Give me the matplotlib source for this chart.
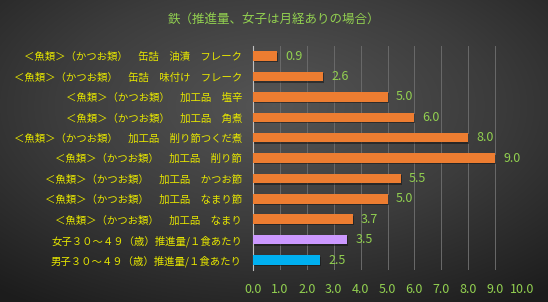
import numpy as np
import matplotlib
matplotlib.use("Agg")
import matplotlib.pyplot as plt

plt.rcParams['font.family'] = ['Noto Sans CJK JP', 'DejaVu Sans']

title = "鉄（推進量、女子は月経ありの場合）"
labels = [
    "＜魚類＞（かつお類）　缶詰　油漬　フレーク",
    "＜魚類＞（かつお類）　缶詰　味付け　フレーク",
    "＜魚類＞（かつお類）　加工品　塩辛",
    "＜魚類＞（かつお類）　加工品　角煮",
    "＜魚類＞（かつお類）　加工品　削り節つくだ煮",
    "＜魚類＞（かつお類）　加工品　削り節",
    "＜魚類＞（かつお類）　加工品　かつお節",
    "＜魚類＞（かつお類）　加工品　なまり節",
    "＜魚類＞（かつお類）　加工品　なまり",
    "女子３０～４９（歳）推進量/１食あたり",
    "男子３０～４９（歳）推進量/１食あたり",
]
values = [0.9, 2.6, 5.0, 6.0, 8.0, 9.0, 5.5, 5.0, 3.7, 3.5, 2.5]
colors = ["#ed7d31"] * 9 + ["#cc99ff", "#00b0f0"]
xticks = [0, 1, 2, 3, 4, 5, 6, 7, 8, 9, 10]

fig = plt.figure(figsize=(5.48, 3.02), dpi=100)

# radial dark background
bg = fig.add_axes([0, 0, 1, 1])
yy, xx = np.mgrid[-1:1:302j, -1:1:548j]
r = np.sqrt(xx ** 2 + (yy + 0.3) ** 2) / 1.6
bg.imshow(np.clip(r, 0, 1), cmap=matplotlib.colors.LinearSegmentedColormap.from_list(
    "bg", ["#555555", "#3c3c3c", "#1c1c1c"]), aspect="auto", extent=[0, 1, 0, 1])
bg.axis("off")

ax = fig.add_axes([0.4617, 0.105, 0.4909, 0.743])
ax.set_facecolor("none")
y = np.arange(len(values))
# shadow
ax.barh(y + 0.06, [v + 0.04 for v in values], height=0.47, color="#111111", alpha=0.5, zorder=2)
ax.barh(y, values, height=0.47, color=colors, zorder=3)
for yi, v in zip(y, values):
    ax.text(v + 0.3, yi, f"{v:.1f}", va="center", ha="left", color="#92d050", fontsize=9)

ax.set_ylim(len(values) - 0.5, -0.5)
ax.set_xlim(0, 10)
ax.set_xticks(xticks)
ax.set_xticklabels([f"{t:.1f}" for t in xticks], color="#92d050", fontsize=9)
ax.set_yticks(y)
ax.set_yticklabels(labels, color="#e6e600", fontsize=7.5)
ax.tick_params(length=0, pad=9, axis="x")
ax.tick_params(length=0, pad=8, axis="y")
ax.grid(axis="x", color="#6a6a6a", linewidth=0.7, zorder=0)
for s in ["top", "right", "bottom"]:
    ax.spines[s].set_visible(False)
ax.spines["left"].set_color("#bfbfbf")
ax.spines["left"].set_linewidth(0.8)

fig.text(0.5, 0.932, title, ha="center", va="center", color="#92d050", fontsize=9)

fig.savefig("out.png", dpi=100)
